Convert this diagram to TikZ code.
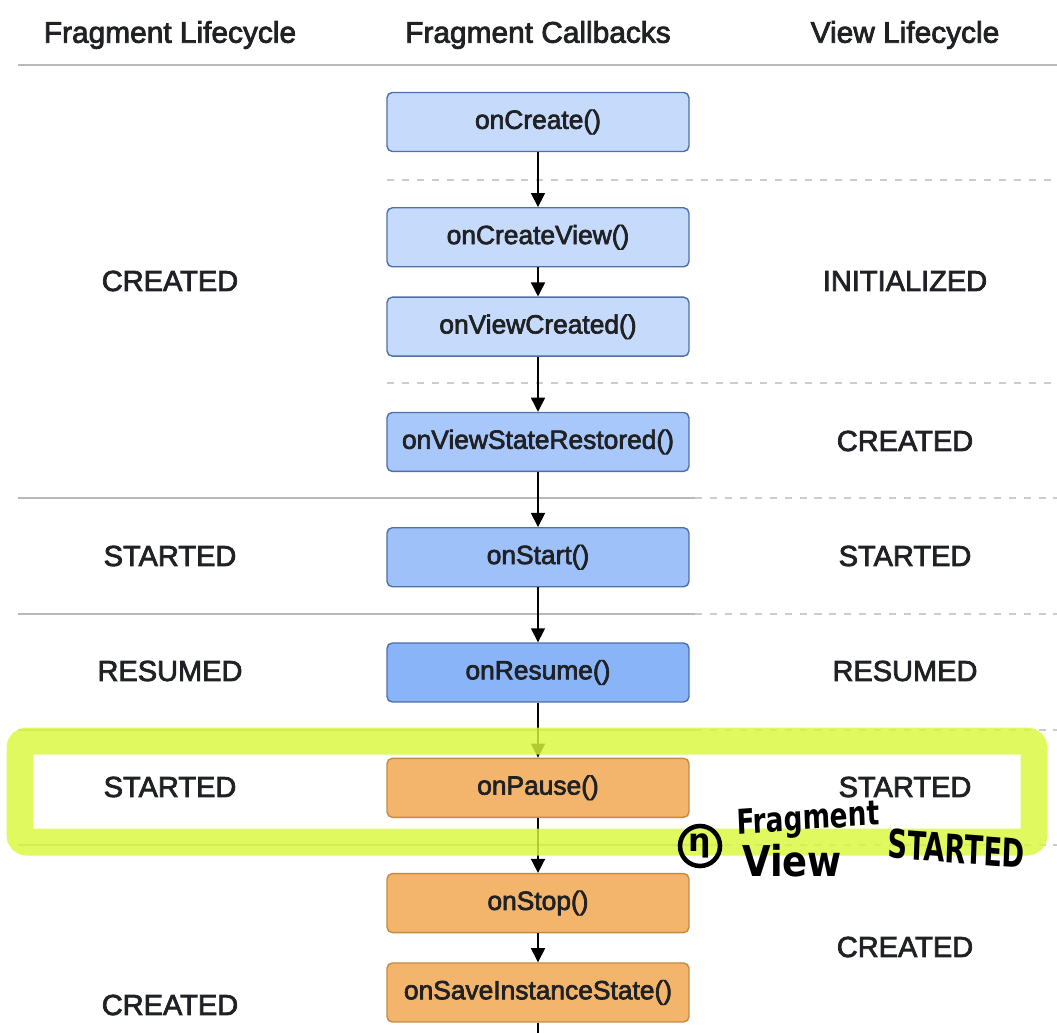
\documentclass[tikz,border=0pt]{standalone}
\usepackage{fontspec}
\setmainfont{Liberation Sans}
\newfontfamily\medfont{Liberation Sans}[FakeBold=2.6]
\newfontfamily\handfont{DejaVu Sans}
\usetikzlibrary{arrows.meta,positioning}
\definecolor{cbpale}{HTML}{C6DAFC}
\definecolor{cbmid}{HTML}{A8C7FA}
\definecolor{cbstart}{HTML}{9EC1F9}
\definecolor{cbdeep}{HTML}{8AB4F8}
\definecolor{cbedge}{HTML}{4F6FA8}
\definecolor{stopfill}{HTML}{F2B56B}
\definecolor{stopedge}{HTML}{C48A42}
\definecolor{ink}{HTML}{202124}
\definecolor{marker}{HTML}{D8F83C}

\begin{document}
\begin{tikzpicture}[
    x=0.02cm, y=-0.02cm,
    node distance=1.098cm,
    cb/.style={rectangle, draw=cbedge, line width=0.8pt, rounded corners=3pt, minimum width=6.04cm, minimum height=1.18cm, inner sep=0pt, align=center, font=\medfont\fontsize{15}{18}\selectfont, text=ink},
    stopcb/.style={cb, draw=stopedge, fill=stopfill},
    head/.style={font=\medfont\fontsize{17}{20}\selectfont, text=ink},
    state/.style={font=\medfont\fontsize{16.5}{20}\selectfont, text=ink},
    flow/.style={-{Triangle[width=8pt,length=8pt]}, line width=0.9pt, draw=black},
    rule/.style={draw=gray!55, line width=1.1pt},
    dotrule/.style={draw=gray!40, line width=1pt, dash pattern=on 4pt off 4.5pt},
    hand/.style={font=\handfont\bfseries, text=black},
]
\useasboundingbox (0,0) rectangle (1057,1033);

% === HEADERS ===
\node[head] (h_frag) at (170,35) {Fragment Lifecycle};
\node[head] (h_cb) at (538,35) {Fragment Callbacks};
\node[head] (h_view) at (905,35) {View Lifecycle};
\coordinate (hl_a) at (18,65);
\coordinate (hl_b) at (1057,65);
\draw[rule] (hl_a) -- (hl_b);

% === DIVIDERS ===
\foreach \yy in {180,383} \draw[dotrule] (387,\yy) -- (1057,\yy);
\foreach \yy in {498,614,730,845} {
  \draw[rule] (18,\yy) -- (695,\yy);
  \draw[dotrule] (695,\yy) -- (1057,\yy);
}

% === CALLBACKS ===
\node[cb, fill=cbpale] (create) at (538,122) {onCreate()};
\node[cb, fill=cbpale, below=of create] (createview) {onCreateView()};
\node[cb, fill=cbpale, below=0.58cm of createview] (viewcreated) {onViewCreated()};
\node[cb, fill=cbmid, below=of viewcreated] (restored) {onViewStateRestored()};
\node[cb, fill=cbstart, below=of restored] (start) {onStart()};
\node[cb, fill=cbdeep, below=of start] (resume) {onResume()};
\node[stopcb, below=of resume] (pause) {onPause()};
\node[stopcb, below=of pause] (stop) {onStop()};
\node[stopcb, below=0.58cm of stop] (save) {onSaveInstanceState()};
\coordinate (tail) at (538,1040);

% === STATES ===
\node[state] (f_created) at (170,281) {CREATED};
\node[state] (f_started) at (170,556) {STARTED};
\node[state] (f_resumed) at (170,671) {RESUMED};
\node[state] (f_paused) at (170,787) {STARTED};
\node[state] (f_stopped) at (170,1005) {CREATED};

\node[state] (v_init) at (905,281) {INITIALIZED};
\node[state] (v_created) at (905,441) {CREATED};
\node[state] (v_started) at (905,556) {STARTED};
\node[state] (v_resumed) at (905,671) {RESUMED};
\node[state] (v_paused) at (905,787) {STARTED};
\node[state] (v_stopped) at (905,947) {CREATED};

% === ARROWS ===
\draw[flow] (create) -- (createview);
\draw[flow] (createview) -- (viewcreated);
\draw[flow] (viewcreated) -- (restored);
\draw[flow] (restored) -- (start);
\draw[flow] (start) -- (resume);
\draw[flow] (resume) -- (pause);
\draw[flow] (pause) -- (stop);
\draw[flow] (stop) -- (save);
\draw[line width=0.9pt] (save) -- (tail);

% === HIGHLIGHT ===
\draw[draw=marker, line width=0.54cm, opacity=0.82, rounded corners=4pt] (20,741) rectangle (1034,842);

% === NOTE ===
\node[hand, circle, draw=black, line width=2.6pt, inner sep=1pt, minimum size=0.8cm, font=\handfont\bfseries\fontsize{18}{18}\selectfont] (n_mark) at (700,846) {η};
\node[hand, font=\handfont\bfseries\fontsize{15}{16}\selectfont, yscale=1.3, rotate=3, anchor=west] (n_frag) at (731,826) {Fragment};
\node[hand, font=\handfont\bfseries\fontsize{21}{22}\selectfont, yscale=1.15, anchor=west] (n_view) at (736,861) {View};
\node[hand, font=\handfont\bfseries\fontsize{15.5}{16}\selectfont, yscale=1.45, rotate=-3, anchor=west] (n_started) at (882,843) {STARTED};

\end{tikzpicture}
\end{document}
